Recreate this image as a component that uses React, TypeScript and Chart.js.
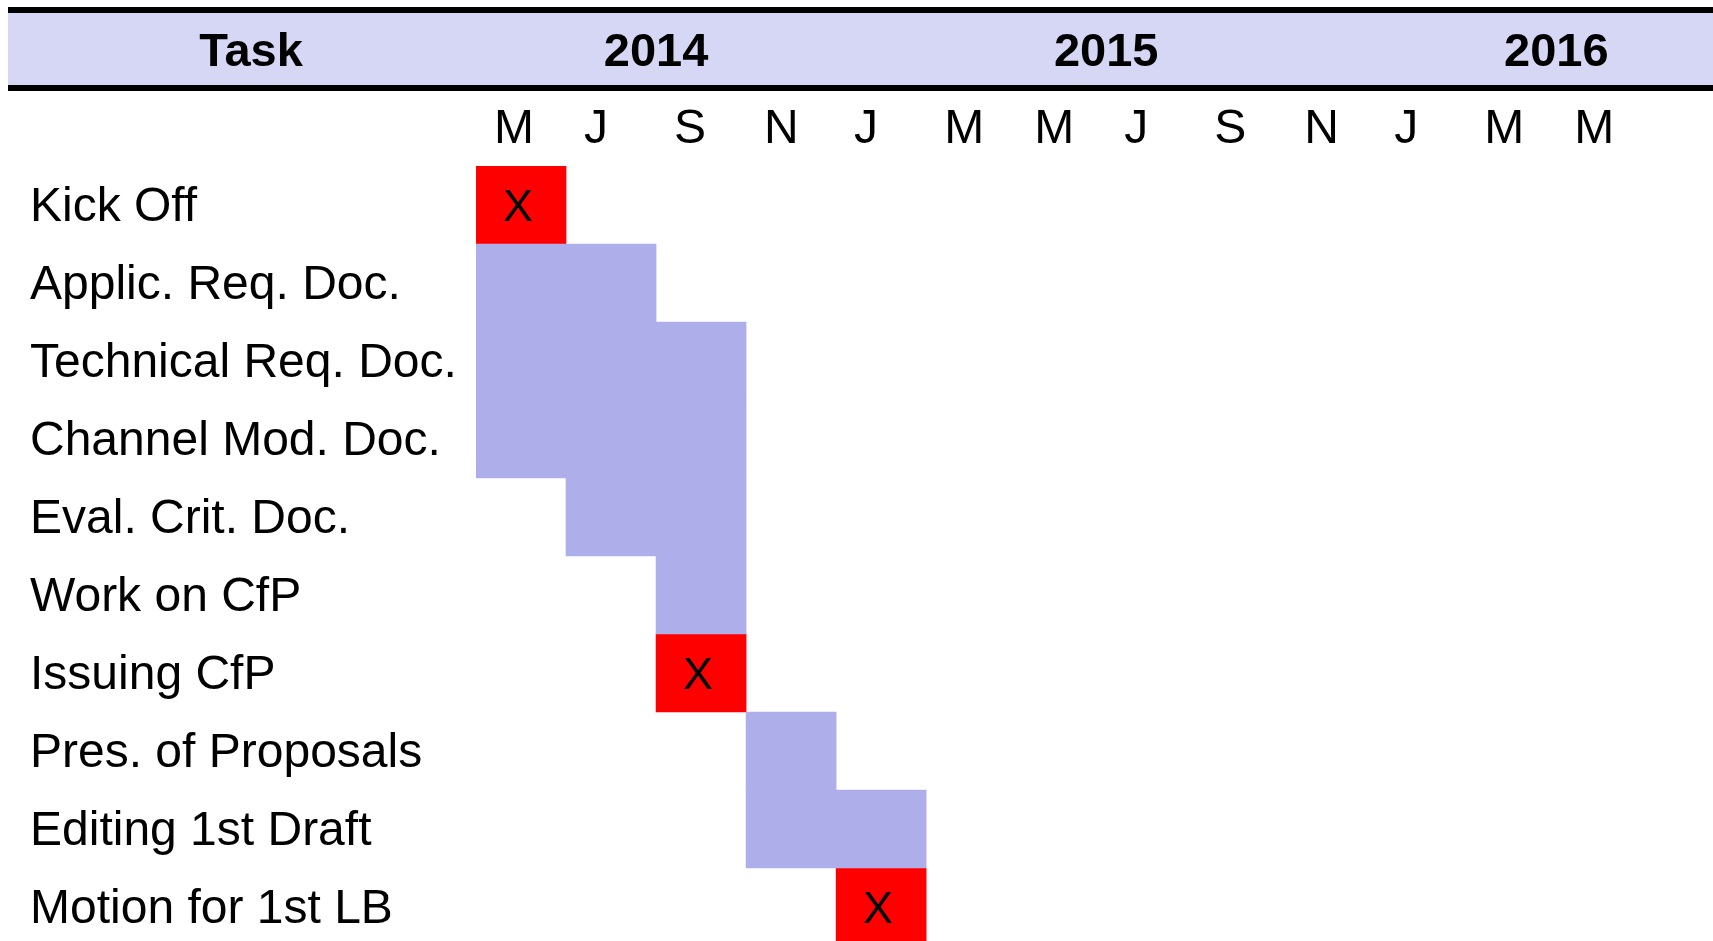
import React, { useEffect, useRef } from 'react';
import { Chart, registerables } from 'chart.js';

Chart.register(...registerables);

// ---- data ----
const tasks = [
  'Kick Off',
  'Applic. Req. Doc.',
  'Technical Req. Doc.',
  'Channel Mod. Doc.',
  'Eval. Crit. Doc.',
  'Work on CfP',
  'Issuing CfP',
  'Pres. of Proposals',
  'Editing 1st Draft',
  'Motion for 1st LB',
];

// periods are two-month columns starting May 2014 (0 = May 2014)
const activityStart = [null, 0, 0, 0, 1, 2, null, 3, 3, null];
const activityEnd = [null, 2, 3, 3, 3, 3, null, 4, 5, null];
const milestoneStart = [0, null, null, null, null, null, 2, null, null, 4];
const milestoneEnd = [1, null, null, null, null, null, 3, null, null, 5];

const monthLabels = ['M', 'J', 'S', 'N', 'J', 'M', 'M', 'J', 'S', 'N', 'J', 'M', 'M'];
const yearLabels = ['2014', '2015', '2016'];
const yearTickValues = [2, 7, 12];
const headerTitle = 'Task';
const milestoneMark = 'X';

const FONT = '"Liberation Sans", Arial, Helvetica, sans-serif';
const ACTIVITY_COLOR = '#AEAEEB';
const MILESTONE_COLOR = '#FF0000';
const HEADER_COLOR = '#D6D6F5';

const pairs = (s: (number | null)[], e: (number | null)[]) =>
  s.map((v, i) => (v === null || e[i] === null ? null : [v, e[i] as number]));

const headerPlugin = {
  id: 'headerBand',
  beforeDraw(chart: any) {
    const { ctx, width } = chart;
    ctx.save();
    ctx.fillStyle = HEADER_COLOR;
    ctx.fillRect(8, 13, width - 8, 72);
    ctx.fillStyle = '#000';
    ctx.fillRect(8, 7, width - 8, 6);
    ctx.fillRect(8, 85, width - 8, 6);
    ctx.font = `bold 47px ${FONT}`;
    ctx.textAlign = 'center';
    ctx.textBaseline = 'middle';
    ctx.fillText(headerTitle, 251, 53);
    ctx.restore();
  },
};

const markPlugin = {
  id: 'milestoneMarks',
  afterDatasetsDraw(chart: any) {
    const meta = chart.getDatasetMeta(1);
    const { ctx } = chart;
    ctx.save();
    ctx.font = `45px ${FONT}`;
    ctx.fillStyle = '#000';
    ctx.textAlign = 'center';
    ctx.textBaseline = 'middle';
    meta.data.forEach((el: any, i: number) => {
      if (milestoneStart[i] === null) return;
      const { x, base, y } = el.getProps(['x', 'base', 'y'], true);
      ctx.fillText(milestoneMark, (x + base) / 2 - 3, y + 4);
    });
    ctx.restore();
  },
};

export default function App() {
  const ref = useRef<HTMLCanvasElement | null>(null);

  useEffect(() => {
    if (!ref.current) return;
    Chart.defaults.font.family = FONT;
    Chart.defaults.color = '#000';

    const chart = new Chart(ref.current, {
      type: 'bar',
      data: {
        labels: tasks,
        datasets: [
          {
            label: 'Activity',
            data: pairs(activityStart, activityEnd) as any,
            backgroundColor: ACTIVITY_COLOR,
            borderWidth: 0,
          },
          {
            label: 'Milestone',
            data: pairs(milestoneStart, milestoneEnd) as any,
            backgroundColor: MILESTONE_COLOR,
            borderWidth: 0,
          },
        ],
      },
      options: {
        indexAxis: 'y',
        animation: false,
        responsive: false,
        maintainAspectRatio: false,
        layout: { padding: { left: 30, right: 0, top: 0, bottom: 4 } },
        datasets: {
          bar: { grouped: false, barPercentage: 1, categoryPercentage: 1 },
        } as any,
        plugins: {
          legend: { display: false },
          tooltip: { enabled: false },
        },
        scales: {
          x: {
            type: 'linear',
            position: 'top',
            min: 0,
            max: 13.74,
            weight: 0,
            grid: { display: false, drawTicks: false },
            border: { display: false },
            afterBuildTicks: (s: any) => {
              s.ticks = monthLabels.map((_, i) => ({ value: i }));
            },
            afterFit: (s: any) => {
              s.height = 75;
              s.paddingLeft = 0;
              s.paddingRight = 0;
            },
            ticks: {
              autoSkip: false,
              maxRotation: 0,
              minRotation: 0,
              align: 'start',
              labelOffset: 18,
              padding: 7,
              color: '#000',
              font: { size: 48 },
              callback: (_v: any, i: number) => monthLabels[i],
            },
          },
          years: {
            type: 'linear',
            axis: 'x',
            position: 'top',
            min: 0,
            max: 13.74,
            weight: 1,
            grid: { display: false, drawTicks: false },
            border: { display: false },
            afterBuildTicks: (s: any) => {
              s.ticks = yearTickValues.map((v) => ({ value: v }));
            },
            afterFit: (s: any) => {
              s.height = 91;
              s.paddingLeft = 0;
              s.paddingRight = 0;
            },
            ticks: {
              autoSkip: false,
              maxRotation: 0,
              minRotation: 0,
              padding: 10,
              color: '#000',
              font: { size: 47, weight: 'bold' },
              callback: (_v: any, i: number) => yearLabels[i],
            },
          } as any,
          y: {
            type: 'category',
            position: 'left',
            grid: { display: false, drawTicks: false },
            border: { display: false },
            afterFit: (s: any) => {
              s.width = 446;
              s.paddingTop = 0;
              s.paddingBottom = 0;
            },
            ticks: {
              autoSkip: false,
              crossAlign: 'far',
              padding: 0,
              labelOffset: 3,
              color: '#000',
              font: { size: 48 },
            },
          },
        },
      },
      plugins: [headerPlugin, markPlugin],
    });

    return () => chart.destroy();
  }, []);

  return (
    <div
      style={{
        position: 'fixed',
        left: 0,
        top: 0,
        width: 1713,
        height: 941,
        overflow: 'hidden',
        background: '#fff',
      }}
    >
      <canvas ref={ref} width={1713} height={950} style={{ width: 1713, height: 950, display: 'block' }} />
    </div>
  );
}
